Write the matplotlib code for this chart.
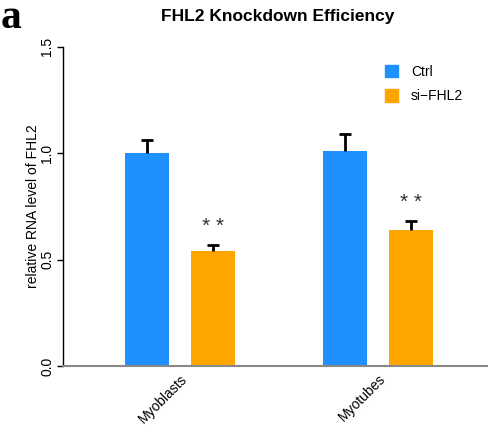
import numpy as np
import matplotlib

matplotlib.use("Agg")
import matplotlib.pyplot as plt
from matplotlib.patches import Patch

# data
groups = ["Myoblasts", "Myotubes"]
series = ["Ctrl", "si\u2212FHL2"]
ctrl_vals = [1.00, 1.01]
ctrl_err = [0.06, 0.08]
si_vals = [0.54, 0.64]
si_err = [0.03, 0.04]
star_y = [0.665, 0.78]
y_ticks = [0.0, 0.5, 1.0, 1.5]

blue = "#1E90FF"
orange = "#FFA500"

plt.rcParams["font.family"] = ["Liberation Sans", "DejaVu Sans"]

fig = plt.figure(figsize=(4.88, 4.33), dpi=100)
ax = fig.add_axes([63 / 488, 1 - 366 / 433, 1 - 63 / 488, (366 - 46.7) / 433])

# bar layout like R barplot(beside=TRUE): width 1, 0.5 within group, 2 between groups
x_ctrl = np.array([0.5, 5.0])
x_si = x_ctrl + 1.5

ax.bar(x_ctrl, ctrl_vals, width=1.0, color=blue, label=series[0])
ax.bar(x_si, si_vals, width=1.0, color=orange, label=series[1])

# upper-only error bars (R arrows style)
cap = 0.14
for xs, vals, errs in [(x_ctrl, ctrl_vals, ctrl_err), (x_si, si_vals, si_err)]:
    tops = np.array(vals) + np.array(errs)
    ax.vlines(xs, vals, tops, color="black", linewidth=2.0, zorder=3)
    ax.hlines(tops, xs - cap, xs + cap, color="black", linewidth=2.0, zorder=3)

for xs, sy in zip(x_si, star_y):
    ax.text(xs, sy - 0.01, "* *", ha="center", va="center", fontsize=15, color="#333333")

ax.set_xlim(-1.41, 8.25)
ax.set_ylim(0, 1.5)

for s in ["top", "right"]:
    ax.spines[s].set_visible(False)
ax.spines["left"].set_bounds(0, 1.5)
ax.spines["left"].set_linewidth(1.0)
ax.spines["bottom"].set_color("#888888")
ax.spines["bottom"].set_linewidth(1.5)

ax.set_yticks(y_ticks)
ax.set_yticklabels([f"{v:.1f}" for v in y_ticks], rotation=90, va="center", fontsize=10)
ax.tick_params(axis="y", length=4.3, width=1.0, pad=2)

ax.set_xticks((x_ctrl + x_si) / 2)
ax.set_xticklabels(groups, rotation=45, ha="right", rotation_mode="anchor", fontsize=10)
ax.tick_params(axis="x", length=0, pad=4)

ax.set_ylabel("relative RNA level of FHL2", fontsize=10, labelpad=0.5)

handles = [Patch(color=blue), Patch(color=orange)]
ax.legend(handles, series, loc="upper left", bbox_to_anchor=(316 / 425, 0.96),
          frameon=False, fontsize=10, handlelength=1.0, handleheight=1.0,
          handletextpad=0.9, labelspacing=0.75, borderaxespad=0)

fig.text(278 / 488, 1 - 16 / 433, "FHL2 Knockdown Efficiency", ha="center",
         va="center", fontsize=12.5, fontweight="bold")
fig.text(1 / 488, 1 - 18 / 433, "a", ha="left", va="center", fontsize=30,
         fontweight="bold", family="Liberation Serif")

fig.savefig("out.png", dpi=100)
